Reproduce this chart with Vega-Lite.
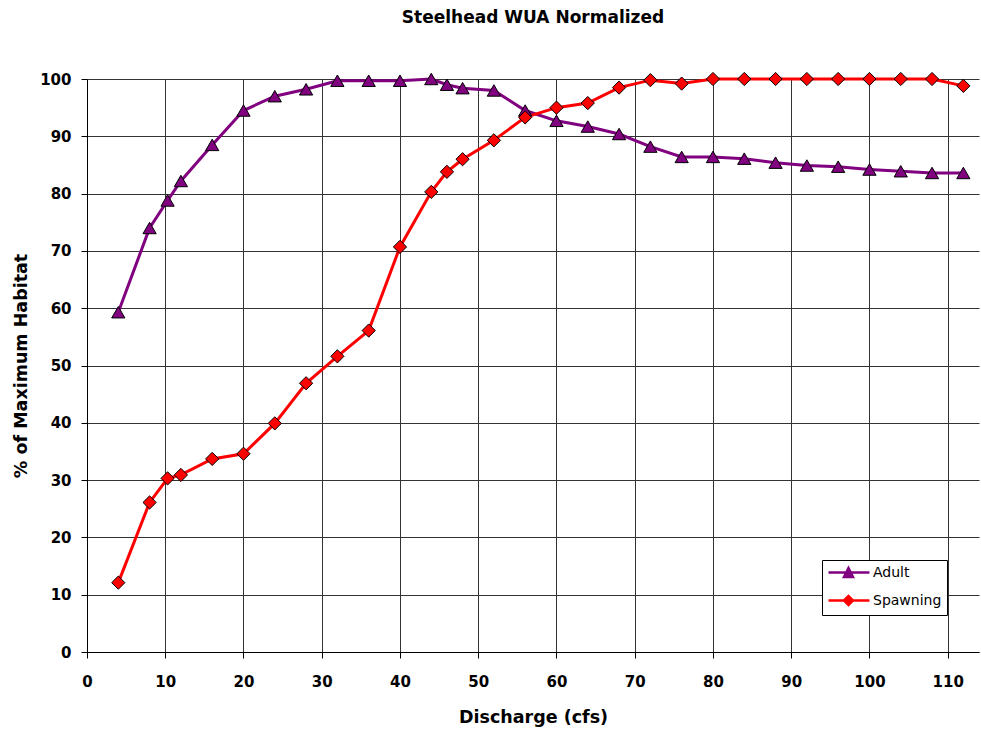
{
  "$schema": "https://vega.github.io/schema/vega-lite/v6.json",
  "autosize": "none",
  "padding": {"left": 87, "top": 79, "right": 2, "bottom": 77},
  "width": 892,
  "height": 573,
  "background": "white",
  "title": {
    "text": "Steelhead WUA Normalized",
    "font": "DejaVu Sans",
    "fontSize": 17,
    "fontWeight": "bold",
    "color": "black",
    "anchor": "middle",
    "frame": "group",
    "baseline": "alphabetic",
    "offset": 30
  },
  "config": {
    "view": {"stroke": null},
    "axis": {
      "labelFont": "DejaVu Sans",
      "labelFontSize": 15,
      "labelFontWeight": "bold",
      "labelColor": "black",
      "titleFont": "DejaVu Sans",
      "titleFontSize": 17.5,
      "titleFontWeight": "bold",
      "titleColor": "black",
      "domainColor": "black",
      "domainWidth": 1,
      "tickColor": "black",
      "tickSize": 6,
      "gridColor": "#333333",
      "gridWidth": 1
    }
  },
  "data": {
    "values": [
      {"q": 4, "pct": 59.3, "series": "Adult"},
      {"q": 8, "pct": 74.0, "series": "Adult"},
      {"q": 10.3, "pct": 78.8, "series": "Adult"},
      {"q": 12, "pct": 82.2, "series": "Adult"},
      {"q": 16, "pct": 88.5, "series": "Adult"},
      {"q": 20, "pct": 94.5, "series": "Adult"},
      {"q": 24, "pct": 97.0, "series": "Adult"},
      {"q": 28, "pct": 98.2, "series": "Adult"},
      {"q": 32, "pct": 99.7, "series": "Adult"},
      {"q": 36, "pct": 99.7, "series": "Adult"},
      {"q": 40, "pct": 99.7, "series": "Adult"},
      {"q": 44, "pct": 100, "series": "Adult"},
      {"q": 46, "pct": 99.0, "series": "Adult"},
      {"q": 48, "pct": 98.4, "series": "Adult"},
      {"q": 52, "pct": 98.0, "series": "Adult"},
      {"q": 56, "pct": 94.5, "series": "Adult"},
      {"q": 60, "pct": 92.7, "series": "Adult"},
      {"q": 64, "pct": 91.7, "series": "Adult"},
      {"q": 68, "pct": 90.4, "series": "Adult"},
      {"q": 72, "pct": 88.2, "series": "Adult"},
      {"q": 76, "pct": 86.4, "series": "Adult"},
      {"q": 80, "pct": 86.4, "series": "Adult"},
      {"q": 84, "pct": 86.1, "series": "Adult"},
      {"q": 88, "pct": 85.4, "series": "Adult"},
      {"q": 92, "pct": 84.9, "series": "Adult"},
      {"q": 96, "pct": 84.7, "series": "Adult"},
      {"q": 100, "pct": 84.2, "series": "Adult"},
      {"q": 104, "pct": 83.9, "series": "Adult"},
      {"q": 108, "pct": 83.6, "series": "Adult"},
      {"q": 112, "pct": 83.6, "series": "Adult"},
      {"q": 4, "pct": 12.1, "series": "Spawning"},
      {"q": 8, "pct": 26.1, "series": "Spawning"},
      {"q": 10.3, "pct": 30.3, "series": "Spawning"},
      {"q": 12, "pct": 30.9, "series": "Spawning"},
      {"q": 16, "pct": 33.7, "series": "Spawning"},
      {"q": 20, "pct": 34.6, "series": "Spawning"},
      {"q": 24, "pct": 39.9, "series": "Spawning"},
      {"q": 28, "pct": 46.9, "series": "Spawning"},
      {"q": 32, "pct": 51.6, "series": "Spawning"},
      {"q": 36, "pct": 56.1, "series": "Spawning"},
      {"q": 40, "pct": 70.7, "series": "Spawning"},
      {"q": 44, "pct": 80.3, "series": "Spawning"},
      {"q": 46, "pct": 83.8, "series": "Spawning"},
      {"q": 48, "pct": 86.0, "series": "Spawning"},
      {"q": 52, "pct": 89.3, "series": "Spawning"},
      {"q": 56, "pct": 93.3, "series": "Spawning"},
      {"q": 60, "pct": 95.0, "series": "Spawning"},
      {"q": 64, "pct": 95.8, "series": "Spawning"},
      {"q": 68, "pct": 98.5, "series": "Spawning"},
      {"q": 72, "pct": 99.8, "series": "Spawning"},
      {"q": 76, "pct": 99.2, "series": "Spawning"},
      {"q": 80, "pct": 100, "series": "Spawning"},
      {"q": 84, "pct": 100, "series": "Spawning"},
      {"q": 88, "pct": 100, "series": "Spawning"},
      {"q": 92, "pct": 100, "series": "Spawning"},
      {"q": 96, "pct": 100, "series": "Spawning"},
      {"q": 100, "pct": 100, "series": "Spawning"},
      {"q": 104, "pct": 100, "series": "Spawning"},
      {"q": 108, "pct": 100, "series": "Spawning"},
      {"q": 112, "pct": 98.8, "series": "Spawning"}
    ]
  },
  "encoding": {
    "x": {
      "field": "q",
      "type": "quantitative",
      "title": "Discharge (cfs)",
      "scale": {"domain": [0, 114], "nice": false, "zero": false},
      "axis": {
        "values": [0, 10, 20, 30, 40, 50, 60, 70, 80, 90, 100, 110],
        "labelPadding": 16,
        "titlePadding": 19,
        "grid": true,
        "labelFlush": false
      }
    },
    "y": {
      "field": "pct",
      "type": "quantitative",
      "title": "% of Maximum Habitat",
      "scale": {"domain": [0, 100], "nice": false},
      "axis": {
        "values": [0, 10, 20, 30, 40, 50, 60, 70, 80, 90, 100],
        "labelPadding": 10,
        "titlePadding": 9,
        "grid": true
      }
    }
  },
  "layer": [
    {
      "mark": {"type": "line", "strokeWidth": 3},
      "encoding": {
        "color": {
          "field": "series",
          "type": "nominal",
          "scale": {"domain": ["Adult", "Spawning"], "range": ["#800080", "#ff0000"]},
          "legend": {
            "title": null,
            "orient": "none",
            "legendX": 735,
            "legendY": 481,
            "direction": "vertical",
            "fillColor": "white",
            "strokeColor": "black",
            "padding": 5,
            "rowPadding": 9,
            "cornerRadius": 0,
            "symbolSize": 144,
            "symbolStrokeWidth": 2.5,
            "labelOffset": 31,
            "labelFont": "DejaVu Sans",
            "labelFontSize": 14,
            "labelColor": "black",
            "encode": {
              "symbols": {
                "update": {
                  "shape": {"signal": "datum.value === 'Adult' ? 'M-1,0H5.83M2.33,-0.75L3.08,0.75L1.58,0.75Z' : 'M-1,0H5.83M1.58,0L2.33,-0.75L3.08,0L2.33,0.75Z'"},
                  "fill": {"signal": "datum.value === 'Adult' ? '#800080' : '#ff0000'"},
                  "stroke": {"signal": "datum.value === 'Adult' ? '#800080' : '#ff0000'"},
                  "strokeWidth": {"value": 2.5},
                  "opacity": {"value": 1}
                }
              }
            }
          }
        }
      }
    },
    {
      "transform": [{"filter": "datum.series === 'Adult'"}],
      "mark": {"type": "point", "filled": true, "opacity": 1, "stroke": "black", "strokeWidth": 1, "size": 175, "shape": "triangle-up"},
      "encoding": {
        "color": {"field": "series", "type": "nominal"}
      }
    },
    {
      "transform": [{"filter": "datum.series === 'Spawning'"}],
      "mark": {"type": "point", "filled": true, "opacity": 1, "stroke": "black", "strokeWidth": 1, "size": 175, "shape": "diamond"},
      "encoding": {
        "color": {"field": "series", "type": "nominal"}
      }
    }
  ]
}
